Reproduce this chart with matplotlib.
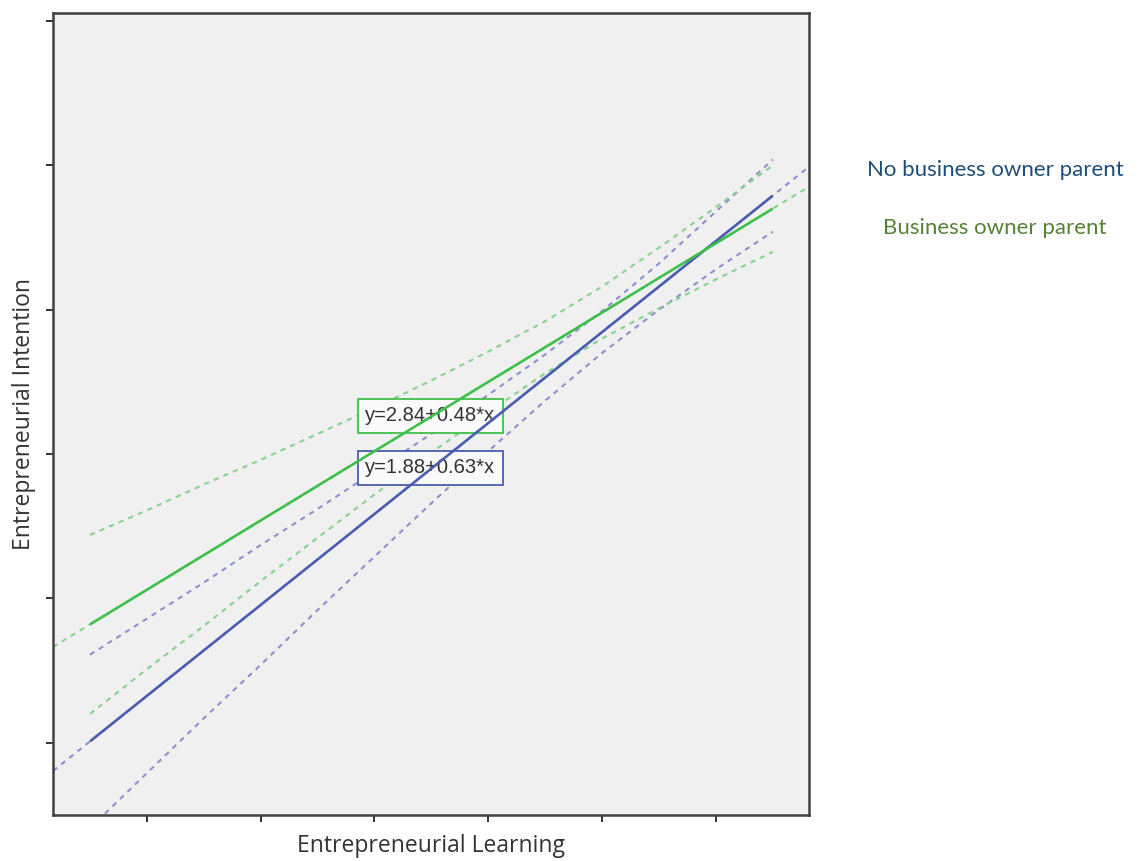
import numpy as np
import matplotlib.pyplot as plt

# regression fits per group (intercept, slope) and the x range they cover
groups = ['No business owner parent', 'Business owner parent']
intercepts = [1.88, 2.84]
slopes = [0.63, 0.48]
x_min, x_max = 1.0, 7.0

# 95% confidence band for the mean, read at half steps from x = 1 to 7
band_x = [1, 1.5, 2, 2.5, 3, 3.5, 4, 4.5, 5, 5.5, 6, 6.5, 7]
blue_upper = [3.11, 3.36, 3.61, 3.87, 4.12, 4.38, 4.64, 4.91, 5.19, 5.49, 5.82, 6.18, 6.54]
blue_lower = [1.91, 2.29, 2.67, 3.04, 3.42, 3.79, 4.16, 4.52, 4.87, 5.20, 5.50, 5.78, 6.04]
green_upper = [3.94, 4.11, 4.29, 4.46, 4.64, 4.82, 5.01, 5.21, 5.42, 5.66, 5.93, 6.21, 6.50]
green_lower = [2.70, 3.01, 3.31, 3.62, 3.92, 4.22, 4.51, 4.79, 5.06, 5.30, 5.51, 5.71, 5.90]

x_ticks = [1.5, 2.5, 3.5, 4.5, 5.5, 6.5]
y_ticks = [2.5, 3.5, 4.5, 5.5, 6.5, 7.5]
x_lim = (0.675, 7.318)
y_lim = (2.0, 7.555)

line_colors = ['#4a5db0', '#3fbf4c']
band_colors = ['#8e8fcf', '#86d28f']
text_colors = ['#1f4e79', '#548235']
bands = [(blue_upper, blue_lower), (green_upper, green_lower)]
label_pos = [(3.99, 4.404), (3.99, 4.764)]

fig = plt.figure(figsize=(11.41, 8.61), dpi=100)
ax = fig.add_axes([53 / 1141, 46 / 861, 756 / 1141, 802 / 861])
ax.set_facecolor('#f0f0f0')

for i in range(2):
    a, b = intercepts[i], slopes[i]
    # dashed extension of the fit across the whole axis
    xs_full = np.array(x_lim)
    ax.plot(xs_full, a + b * xs_full, color=band_colors[i], lw=1.5,
            dashes=(2.5, 2.5), zorder=2)
    up, lo = bands[i]
    ax.plot(band_x, up, color=band_colors[i], lw=1.5, dashes=(2.5, 2.5), zorder=2)
    ax.plot(band_x, lo, color=band_colors[i], lw=1.5, dashes=(2.5, 2.5), zorder=2)
    xs = np.array([x_min, x_max])
    ax.plot(xs, a + b * xs, color=line_colors[i], lw=1.9, zorder=3,
            solid_capstyle='butt')
    ax.text(label_pos[i][0], label_pos[i][1], f'y={a:.2f}+{b:.2f}*x',
            ha='center', va='center', fontsize=14.5, color='#333333',
            family='Liberation Sans', zorder=2.5,
            bbox=dict(boxstyle='square,pad=0.36', fc='#fafafa',
                      ec=line_colors[i], lw=1.3))

ax.set_xlim(*x_lim)
ax.set_ylim(*y_lim)
ax.set_xticks(x_ticks)
ax.set_yticks(y_ticks)
ax.set_xticklabels([])
ax.set_yticklabels([])
ax.tick_params(length=5, width=1.4, color='#333333', direction='out')
for side in ax.spines.values():
    side.set_color('#404040')
    side.set_linewidth(1.8)

ax.set_xlabel('Entrepreneurial Learning', fontsize=16.5, family='Open Sans',
              color='#333333', labelpad=5)
ax.set_ylabel('Entrepreneurial Intention', fontsize=16.5, family='Open Sans',
              color='#333333', labelpad=4)

# group legend as plain coloured text on the right
fig.text(995 / 1141, 1 - 170 / 861, groups[0], ha='center', va='center',
         fontsize=16, family='Lato', color=text_colors[0])
fig.text(995 / 1141, 1 - 228 / 861, groups[1], ha='center', va='center',
         fontsize=16, family='Lato', color=text_colors[1])

fig.savefig('out.png', dpi=100)
